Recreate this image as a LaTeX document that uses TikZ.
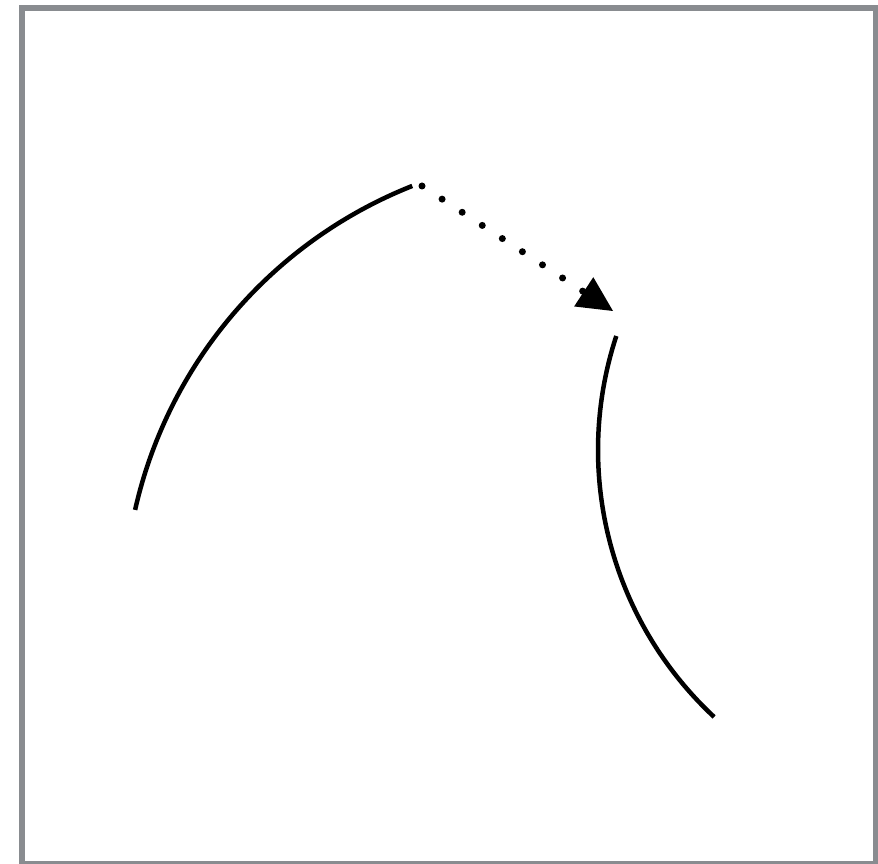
\documentclass[tikz,border=0pt]{standalone}
\usetikzlibrary{arrows.meta}
\definecolor{framegray}{RGB}{137,140,144}
\begin{document}
\begin{tikzpicture}[x=1pt,y=1pt,
  arcline/.style={line width=4.5pt, black},
  dotline/.style={line width=7pt, black, line cap=round, dash pattern=on 0pt off 24pt,
    -{Triangle[length=35pt,width=35pt,line width=0pt]}},
  frame/.style={draw=framegray, line width=5.5pt}]
\useasboundingbox (0,0) rectangle (878,864);
\begin{scope}
\clip (0,0) rectangle (878,864);
\draw[frame] (22,856) rectangle (876,0);
\end{scope}
% left arc
\coordinate (a1s) at (135.1,354.1);
\draw[arcline] (a1s) arc[start angle=167.3, end angle=111.6, radius=456.3] coordinate (a1e);
% right arc
\coordinate (a2s) at (616.3,528);
\draw[arcline] (a2s) arc[start angle=161.8, end angle=227, radius=365] coordinate (a2e);
% dotted arrow
\coordinate (ds) at (422,678);
\coordinate (de) at (613,553);
\draw[dotline] (ds) -- (de);
\end{tikzpicture}
\end{document}
